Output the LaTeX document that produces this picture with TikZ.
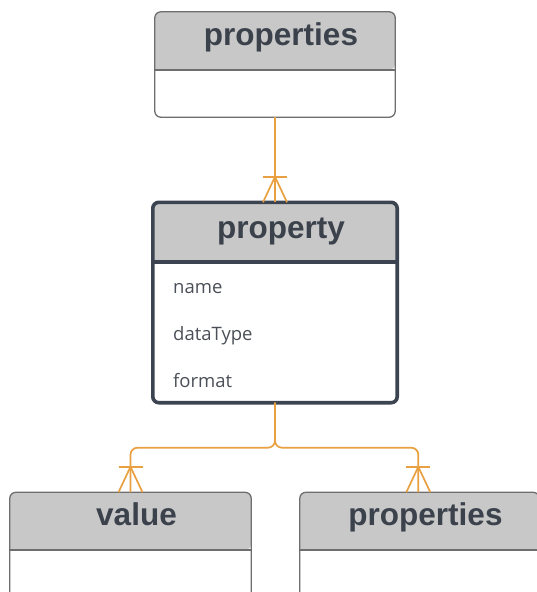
\documentclass[tikz,border=0pt]{standalone}
\usepackage{fontspec}
\setmainfont{Liberation Sans}
\newfontfamily\bodyfont{Open Sans}
\usetikzlibrary{calc}
\definecolor{hdrfill}{HTML}{C8C8C8}
\definecolor{thinborder}{HTML}{6E6E6E}
\definecolor{darkborder}{HTML}{3B4450}
\definecolor{titlecol}{HTML}{3B424C}
\definecolor{bodycol}{HTML}{4B5058}
\definecolor{conncol}{HTML}{E9A040}
\tikzset{
  entity/.style={draw=none, inner sep=0pt, rectangle},
  title/.style={font=\fontsize{31.5}{36}\selectfont\bfseries, text=titlecol, anchor=base, inner sep=0pt},
  attr/.style={font=\bodyfont\fontsize{18.5}{22}\selectfont, text=bodycol, anchor=base west, inner sep=0pt},
  conn/.style={draw=conncol, line width=1.7pt},
  thinbox/.style={draw=thinborder, line width=1.3pt},
  thickbox/.style={draw=darkborder, line width=3.6pt},
}
% crow's foot at the top of a box: #1 = point on box top
\newcommand{\crowfoot}[1]{%
  \draw[conn] ($(#1)+(-12,-25.5)$) -- ($(#1)+(12,-25.5)$);
  \draw[conn] ($(#1)+(0,-25.5)$) -- ($(#1)+(-12,0)$);
  \draw[conn] ($(#1)+(0,-25.5)$) -- ($(#1)+(12,0)$);
}
\begin{document}
\begin{tikzpicture}[x=1pt,y=-1pt]
\useasboundingbox (0,0) rectangle (537,592);

% ---------- top "properties" box ----------
\node[entity, minimum width=240pt, minimum height=105pt] (top) at (275,64.5) {};
\fill[white, rounded corners=6pt] (top.north west) rectangle (top.south east);
\fill[hdrfill] [rounded corners=6pt] (155,70) |- (275,12) -| (395,70) [sharp corners] -- cycle;
\draw[thinbox] (155,70) -- (395,70);
\draw[thinbox, rounded corners=6pt] (top.north west) rectangle (top.south east);
\node[title] (toptitle) at (281,45) {properties};

% ---------- property box ----------
\node[entity, minimum width=244pt, minimum height=200pt] (prop) at (275,302.5) {};
\fill[white, rounded corners=6pt] (prop.north west) rectangle (prop.south east);
\fill[hdrfill] [rounded corners=6pt] (153,262) |- (275,202.5) -| (397,262) [sharp corners] -- cycle;
\draw[thickbox] (153,262) -- (397,262);
\draw[thickbox, rounded corners=6pt] (prop.north west) rectangle (prop.south east);
\node[title] (proptitle) at (281,238) {property};
\node[attr] (a1) at (173,293) {name};
\node[attr] (a2) at (173,340) {dataType};
\node[attr] (a3) at (173,387) {format};

% ---------- value box ----------
\node[entity, minimum width=241pt, minimum height=110pt] (value) at (130.5,547.5) {};
\fill[white, rounded corners=6pt] (value.north west) rectangle (value.south east);
\fill[hdrfill] [rounded corners=6pt] (10,550) |- (130.5,492.5) -| (251,550) [sharp corners] -- cycle;
\draw[thinbox] (10,550) -- (251,550);
\draw[thinbox, rounded corners=6pt] (value.north west) rectangle (value.south east);
\node[title] (valtitle) at (136.5,525) {value};

% ---------- bottom-right properties box ----------
\node[entity, minimum width=239pt, minimum height=110pt] (props) at (419.5,547.5) {};
\fill[white, rounded corners=6pt] (props.north west) rectangle (props.south east);
\fill[hdrfill] [rounded corners=6pt] (300,550) |- (419.5,492.5) -| (539,550) [sharp corners] -- cycle;
\draw[thinbox] (300,550) -- (539,550);
\draw[thinbox, rounded corners=6pt] (props.north west) rectangle (props.south east);
\node[title] (propstitle) at (425.5,525) {properties};
\coordinate (propsin) at ($(props.north west)+(118.5,0)$);

% ---------- connectors ----------
\draw[conn] (top.south) -- (prop.north);
\crowfoot{prop.north}

\coordinate (junc) at ($(prop.south)+(0,45)$);
\draw[conn, rounded corners=7pt] (prop.south) |- (value.north |- junc) -- (value.north);
\draw[conn, rounded corners=7pt] (prop.south) |- (propsin |- junc) -- (propsin);
\crowfoot{value.north}
\crowfoot{propsin}
\end{tikzpicture}
\end{document}
